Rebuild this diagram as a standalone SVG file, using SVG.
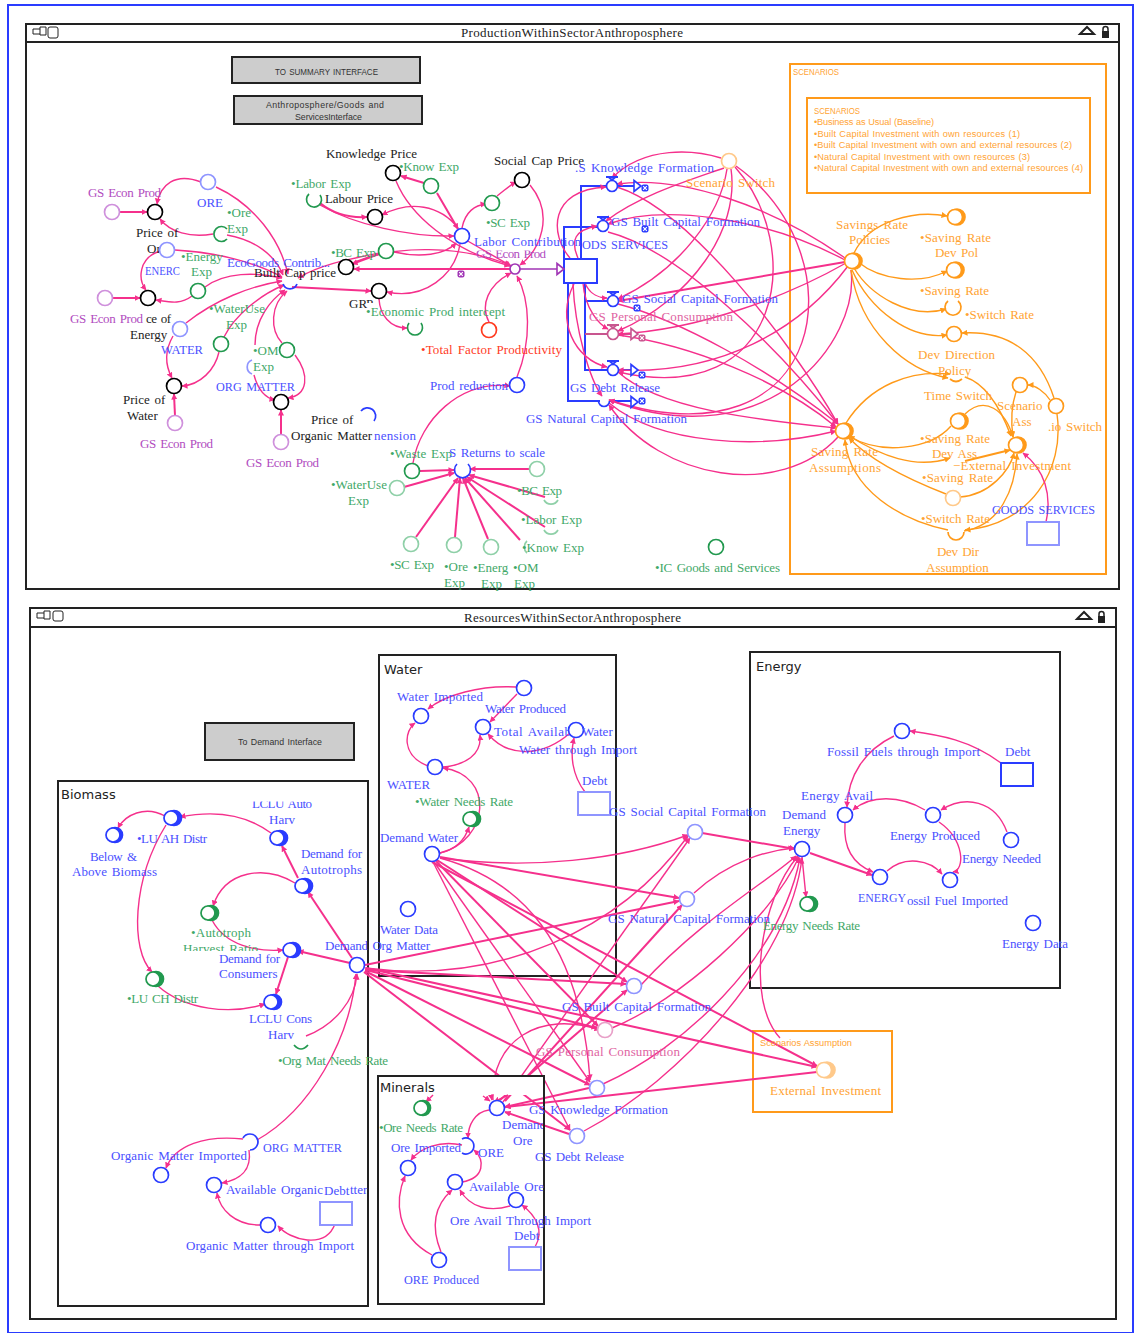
<svg xmlns="http://www.w3.org/2000/svg" width="1135" height="1333" viewBox="0 0 1135 1333">
<style>
text{font-family:"Liberation Serif","Times New Roman",serif;font-size:13px;word-spacing:1.500px}
.s{font-family:"Liberation Sans",Arial,sans-serif;font-size:9.200px;word-spacing:.5px}
.h{font-family:"DejaVu Sans","Open Sans",sans-serif;font-size:13px;fill:#222}
.bt{font-family:"Liberation Sans",Arial,sans-serif;font-size:8.800px;fill:#333;word-spacing:1px}
.ttl{fill:#222}
.tb{fill:#4a50ff}.tg{fill:#3fa868}.tk{fill:#222}.to{fill:#ffa333}.tp{fill:#b14cc0}.tr{fill:#ff3b1f}.tn{fill:#e064a2}
circle,.a{fill:#fff;stroke-width:1.700}
.a{fill:none}
.b{stroke:#2a3cff}.lb{stroke:#8f95ff}.g{stroke:#22994f}.lg{stroke:#8fd0a8}.k{stroke:#000}.o{stroke:#ff9a1a}.lo{stroke:#ffc98a}.pu{stroke:#cf90dc}.r{stroke:#ff3b1f}.m{stroke:#a035b5}.lp{stroke:#e8a0c8}.vp{stroke:#c8558f}
.cbf{fill:#2a3cff;stroke:#2a3cff}.cgf{fill:#22994f;stroke:#22994f}.cof{fill:#ff9a1a;stroke:#ff9a1a}.clo{fill:#ffc98a;stroke:#ffc98a}
.win{fill:#fff;stroke:#222;stroke-width:2}
.box{fill:none;stroke:#222;stroke-width:2}
.obox{fill:none;stroke:#ff9a1a;stroke-width:2}
.stk{fill:#fff;stroke:#2a3cff;stroke-width:2}
.lstk{fill:#fff;stroke:#8f95ff;stroke-width:2}
.btn{fill:#cdcdcd;stroke:#222;stroke-width:2}
#conn path,#conn2 path{fill:none;stroke:#f5308c;stroke-width:1.400;marker-end:url(#ap)}
#conn .t{stroke-width:2}
#conn .og{stroke:#ff9a1a;marker-end:url(#ao)}
.pipe{fill:none;stroke:#2a3cff;stroke-width:2}
.pp{fill:none;stroke:#c8558f;stroke-width:2}
.pm{fill:none;stroke:#a035b5;stroke-width:1.500}
</style>
<defs>
<marker id="ap" markerUnits="userSpaceOnUse" markerWidth="7" markerHeight="7" refX="5.500" refY="3" orient="auto"><path d="M0,0L6,3L0,6z" fill="#f5308c"/></marker>
<marker id="ao" markerUnits="userSpaceOnUse" markerWidth="7" markerHeight="7" refX="5.500" refY="3" orient="auto"><path d="M0,0L6,3L0,6z" fill="#ff9a1a"/></marker>
<g id="cl"><rect x="-3.500" y="-3.500" width="7" height="7" rx="2" fill="currentColor"/><path d="M-1.800,-1.800L1.800,1.800M1.800,-1.800L-1.800,1.800" stroke="#fff" stroke-width="1.200"/></g>
<g id="ah"><path d="M-6,-5.500L1,0L-6,5.500z" fill="#fff" stroke="currentColor" stroke-width="1.600"/></g>
<g id="vt"><path d="M-6,-9H6M-3.500,-9L0,-6L3.500,-9" fill="none" stroke="currentColor" stroke-width="1.800"/></g>
<clipPath id="c1"><rect x="470" y="250.500" width="90" height="12"/></clipPath>
<clipPath id="c2"><rect x="240" y="801.500" width="90" height="12"/></clipPath>
<clipPath id="c3"><rect x="170" y="940" width="100" height="11"/></clipPath>
<clipPath id="c4"><rect x="915" y="473" width="90" height="14"/></clipPath>
<clipPath id="c5"><rect x="360" y="295" width="30" height="8"/></clipPath>
<clipPath id="c6"><rect x="495" y="1115" width="48" height="20"/></clipPath>
</defs>
<rect x="8" y="5" width="1125" height="1328" fill="#fff" stroke="#2a3cff" stroke-width="2"/>

<g id="win1">
<rect class="win" x="26" y="24" width="1093" height="565"/>
<path d="M26,42H1119" stroke="#222" stroke-width="2"/>
<text class="ttl" x="461" y="37" textLength="222">ProductionWithinSectorAnthroposphere</text>
<path d="M33,29h7v-2h6v8h-6v-1h-7zM40,29v5" fill="#fff" stroke="#222"/>
<rect x="48" y="27" width="10" height="11" rx="2" fill="#fff" stroke="#222"/>
<path d="M1080,34L1087,27L1094,34z" fill="#fff" stroke="#222" stroke-width="2"/>
<rect x="1102" y="31" width="7" height="7" fill="#222"/><path d="M1103,31v-2a2.500,2.500 0 0 1 5,0v2" fill="none" stroke="#222" stroke-width="1.500"/>
</g>
<g id="win2">
<rect class="win" x="30" y="608" width="1086" height="711"/>
<path d="M30,627H1116" stroke="#222" stroke-width="2"/>
<text class="ttl" x="464" y="622" textLength="217">ResourcesWithinSectorAnthroposphere</text>
<path d="M37,613h7v-2h6v8h-6v-1h-7zM44,613v5" fill="#fff" stroke="#222"/>
<rect x="53" y="611" width="10" height="10" rx="2" fill="#fff" stroke="#222"/>
<path d="M1077,619L1084,612L1091,619z" fill="#fff" stroke="#222" stroke-width="2"/>
<rect x="1098" y="616" width="7" height="7" fill="#222"/><path d="M1099,616v-2a2.500,2.500 0 0 1 5,0v2" fill="none" stroke="#222" stroke-width="1.500"/>
</g>

<g id="btn1"><rect class="btn" x="232" y="57" width="188" height="26"/><text class="bt" x="275" y="75" textLength="103" lengthAdjust="spacingAndGlyphs">TO SUMMARY INTERFACE</text></g>
<g id="btn2"><rect class="btn" x="234" y="96" width="188" height="28"/><text class="bt" x="266" y="108" textLength="118">Anthroposphere/Goods and</text><text class="bt" x="295" y="120" textLength="67">ServicesInterface</text></g>
<g id="btn3"><rect class="btn" x="205" y="723" width="149" height="37"/><text class="bt" x="238" y="745" textLength="84">To Demand Interface</text></g>

<g id="boxes">
<rect class="obox" x="790" y="64" width="316" height="510"/>
<rect class="obox" x="807" y="98" width="283" height="95"/>
<rect class="box" x="379" y="655" width="237" height="321"/>
<rect class="box" x="750" y="652" width="310" height="336"/>
<rect class="box" x="58" y="781" width="310" height="525"/>
<rect class="obox" x="753" y="1031" width="139" height="81"/>
</g>

<g id="pipes">
<path class="pipe" d="M581,259V186H607M564,259V227H598M585,283V301H608M585,301V370H608M568,283V401H600"/>
<path class="pp" d="M585,334H608"/>
<path class="pipe" d="M618,186H638M618,370H636M610,401H636"/>
<path class="pp" d="M618,334H636"/>
<path class="pm" d="M520,269H561"/>
</g>

<g id="conn">
<path class="t" d="M116,212L147,212"/>
<path d="M201,182C175,172 160,185 157,204"/>
<path d="M213,234C190,238 170,232 160,219"/>
<path d="M216,187C255,205 280,240 288,274"/>
<path d="M227,235C255,240 275,255 283,275"/>
<path d="M160,251C138,258 138,280 146,290"/>
<path class="t" d="M109,298L140,298"/>
<path d="M192,296C180,305 170,302 156,300"/>
<path d="M175,250C215,252 255,262 282,277"/>
<path d="M205,287C225,272 255,272 282,278"/>
<path d="M186,323C215,300 250,286 282,281"/>
<path d="M224,337C235,315 260,295 284,285"/>
<path d="M255,345C255,320 270,300 285,290"/>
<path d="M282,343C270,330 270,305 287,291"/>
<path d="M295,355C310,375 308,395 288,398"/>
<path d="M254,375C258,390 265,398 275,400"/>
<path d="M173,336C165,350 165,365 172,378"/>
<path d="M219,352C215,370 200,385 182,386"/>
<path class="t" d="M175,416L174,394"/>
<path class="t" d="M281,435L281,410"/>
<path class="t" d="M292,287L371,291"/>
<path d="M379,299C380,315 390,328 407,328"/>
<path class="t" d="M320,203C335,215 350,218 367,217"/>
<path d="M320,205C355,225 410,237 454,236"/>
<path d="M458,228C440,205 410,200 382,215"/>
<path class="t" d="M424,183L401,176"/>
<path class="t" d="M437,193L458,229"/>
<path d="M462,228C465,212 475,205 486,204"/>
<path d="M497,196C505,190 510,185 516,182"/>
<path d="M396,181C410,215 450,250 510,266"/>
<path d="M530,185C555,215 540,250 520,265"/>
<path class="t" d="M379,254L352,264"/>
<path d="M394,252C420,258 445,255 456,243"/>
<path class="t" d="M510,269L354,269"/>
<path d="M355,262C395,245 460,245 510,265"/>
<path d="M379,253C345,260 320,265 298,278"/>
<path d="M460,244C455,275 425,300 387,292"/>
<path d="M466,240L511,266"/>
<path d="M489,322C480,305 488,285 511,273"/>
<path d="M517,377C532,340 530,300 517,276"/>
<path d="M413,463C420,420 460,380 510,386"/>
<path class="t" d="M420,471L454,470"/>
<path class="t" d="M404,487L454,473"/>
<path class="t" d="M529,469L470,469"/>
<path class="t" d="M545,497L469,475"/>
<path class="t" d="M545,527L467,477"/>
<path class="t" d="M520,540L465,478"/>
<path class="t" d="M488,539L463,478"/>
<path class="t" d="M455,537L460,478"/>
<path class="t" d="M416,537L458,478"/>

<path d="M845,258C770,205 680,175 617,184"/>
<path d="M845,260C760,215 660,205 608,224"/>
<path class="t" d="M845,262L618,301"/>
<path d="M846,263C790,295 700,330 618,334"/>
<path d="M848,266C800,330 720,375 618,370"/>
<path d="M851,270C860,340 770,460 609,400"/>
<path d="M617,187C690,210 790,340 838,424"/>
<path d="M608,232C680,250 780,350 838,424"/>
<path d="M618,304C680,320 770,370 838,424"/>
<path d="M618,335C690,345 780,380 836,427"/>
<path d="M618,372C660,410 760,420 836,428"/>
<path d="M609,403C660,445 760,450 836,431"/>
<path d="M838,437C780,500 660,480 609,405"/>
<path d="M721,158C695,150 645,145 612,178"/>
<path d="M724,168C690,180 640,195 606,221"/>
<path d="M727,169C720,215 680,270 618,299"/>
<path d="M731,169C740,230 690,300 618,331"/>
<path d="M735,167C805,245 785,410 618,372"/>
<path d="M736,166C860,255 830,470 609,400"/>
<path d="M570,258C550,235 548,190 606,187"/>
<path d="M578,258C570,240 575,230 597,226"/>
<path d="M585,283C590,295 600,298 607,298"/>
<path d="M583,283C585,310 600,325 608,329"/>
<path d="M574,284C555,320 575,360 607,367"/>
<path d="M573,284C575,330 590,380 602,396"/>

<path class="og" d="M854,253C870,220 915,210 947,216"/>
<path class="og" d="M858,262C880,280 920,285 947,271"/>
<path class="og" d="M854,268C870,295 910,320 946,309"/>
<path class="og" d="M852,270C870,310 910,340 947,335"/>
<path class="og" d="M851,270C860,330 905,370 948,378"/>
<path class="og" d="M846,423C870,385 910,370 950,374"/>
<path class="og" d="M965,377C990,385 1005,420 1011,436"/>
<path class="og" d="M951,426C930,450 880,455 849,436"/>
<path class="og" d="M965,414C985,395 1005,410 1013,437"/>
<path class="og" d="M849,436C880,455 915,470 950,458"/>
<path class="og t" d="M965,461L1010,450"/>
<path class="og" d="M946,494C910,480 870,460 849,438"/>
<path class="og" d="M960,497C990,495 1010,470 1014,453"/>
<path class="og" d="M948,530C900,520 850,490 845,440"/>
<path class="og" d="M964,531C1000,525 1015,490 1017,454"/>
<path class="og" d="M1016,392C1010,410 1012,430 1013,437"/>
<path class="og" d="M1050,400C1045,392 1035,385 1028,385"/>
<path class="og" d="M1054,398C1040,355 1010,330 962,333"/>
<path class="og" d="M1057,414C1065,470 1030,525 965,530"/>
<path d="M1046,522C1052,495 1045,470 1023,453"/>

<path d="M516,687C480,685 445,695 428,709"/>
<path d="M517,694L490,722"/>
<path d="M570,733C545,755 510,760 488,734"/>
<path d="M585,792C572,775 570,755 574,738"/>
<path d="M428,766C400,755 405,730 415,723"/>
<path d="M443,767C465,765 482,755 480,735"/>
<path d="M440,853C490,840 495,775 443,768"/>
<path d="M440,853C455,850 465,840 469,827"/>

<path d="M1001,763C970,740 940,735 910,731"/>
<path d="M894,736C865,750 848,775 847,807"/>
<path d="M925,810C900,795 870,795 853,810"/>
<path d="M1007,832C995,800 965,795 941,810"/>
<path d="M939,822C965,840 965,870 953,872"/>
<path d="M887,871C905,855 930,860 942,874"/>
<path d="M845,823C843,850 855,865 873,872"/>
<path class="t" d="M810,853L872,875"/>
<path d="M802,857L806,897"/>

<path d="M440,858C530,870 620,860 688,835"/>
<path class="t" d="M440,857L679,898"/>
<path class="t" d="M437,860L627,982"/>
<path class="t" d="M436,861L598,1026"/>
<path d="M434,862L590,1082"/>
<path d="M433,862L570,1130"/>
<path d="M440,858C520,880 580,940 590,1080"/>
<path class="t" d="M432,862L817,1066"/>
<path d="M365,968C500,985 620,930 688,836"/>
<path class="t" d="M365,965L679,901"/>
<path class="t" d="M365,970L626,984"/>
<path class="t" d="M366,970L597,1028"/>
<path class="t" d="M365,971L590,1085"/>
<path class="t" d="M364,972L570,1130"/>
<path class="t" d="M366,968L817,1067"/>
<path d="M503,1102L690,838"/>
<path class="t" d="M505,1101L682,905"/>
<path class="t" d="M500,1100L627,990"/>
<path d="M493,1100C490,1040 540,1010 600,1030"/>
<path class="t" d="M589,1088L505,1107"/>
<path class="t" d="M569,1134L505,1112"/>
<path class="t" d="M817,1072L505,1107"/>
<path class="t" d="M702,833L795,849"/>
<path d="M694,893C730,860 770,850 794,848"/>
<path d="M641,985C700,920 770,880 796,856"/>
<path d="M612,1028C680,1000 770,920 799,857"/>
<path d="M603,1084C680,1050 780,960 800,858"/>
<path d="M584,1131C680,1080 790,960 802,858"/>
<path d="M780,1038C745,1000 760,900 798,856"/>

<path d="M165,816C145,805 125,815 118,828"/>
<path d="M166,825C132,880 130,950 152,972"/>
<path d="M271,833C240,810 205,812 180,817"/>
<path class="t" d="M298,878L282,846"/>
<path class="t" d="M352,958L308,892"/>
<path d="M295,883C265,865 225,870 213,906"/>
<path d="M212,920C225,945 255,952 283,950"/>
<path class="t" d="M350,963L298,951"/>
<path class="t" d="M288,957L276,994"/>
<path d="M158,986C185,1010 230,1015 265,1004"/>
<path d="M306,1036C335,1025 355,1000 357,974"/>
<path d="M257,1140C310,1110 350,1040 356,974"/>
<path d="M243,1139C205,1135 175,1145 166,1168"/>
<path d="M249,1150C252,1170 240,1180 222,1183"/>
<path d="M260,1225C235,1225 220,1210 217,1193"/>
<path d="M335,1224C325,1250 290,1240 278,1226"/>
</g>

<rect id="mask" x="379" y="1077" width="164" height="18" fill="#fff"/>
<g id="minerals-box">
<rect class="box" x="378" y="1076" width="166" height="228"/>
</g>
<g id="conn2">
<path d="M489,1110C475,1112 468,1125 468,1138"/>
<path d="M462,1145C440,1140 420,1148 411,1160"/>
<path d="M462,1182C485,1178 485,1160 474,1150"/>
<path d="M510,1206C490,1212 470,1208 460,1190"/>
<path d="M535,1247C545,1230 535,1215 522,1205"/>
<path d="M432,1255C395,1235 395,1200 405,1176"/>
<path d="M441,1252C430,1225 435,1205 452,1190"/>
<path d="M433,1095C430,1098 428,1100 426,1102"/>
<path d="M483,1096L490,1101"/>
<path d="M491,1095L492,1100"/>
<path d="M508,1095L494,1102"/>
</g>

<!-- top window nodes -->
<g id="n-gs1"><circle class="pu" cx="112" cy="212" r="7.500"/><text class="tp" x="88" y="197" textLength="73">GS Econ Prod</text></g>
<g id="n-priceore"><circle class="k" cx="155" cy="212" r="7.500"/><text class="tk" x="136" y="237">Price of</text><text class="tk" x="147" y="253">Or</text></g>
<g id="n-ore"><circle class="lb" cx="208" cy="182" r="7.500"/><text class="tb" x="197" y="207">ORE</text></g>
<g id="n-oreexp"><path class="a g" d="M227,229A7.500,7.500 0 1 0 227,239"/><text class="tg" x="227" y="217">•Ore</text><text class="tg" x="227" y="233">Exp</text></g>
<g id="n-energy"><circle class="lb" cx="167" cy="250" r="7.500"/><text class="tb" x="145" y="275" textLength="35" lengthAdjust="spacingAndGlyphs">ENERC</text></g>
<g id="n-energyexp"><circle class="g" cx="198" cy="291" r="7.500"/><text class="tg" x="181" y="261">•Energy</text><text class="tg" x="191" y="276">Exp</text></g>
<g id="n-gs2"><circle class="pu" cx="105" cy="298" r="7.500"/><text class="tp" x="70" y="323" textLength="73">GS Econ Prod</text></g>
<g id="n-priceen"><circle class="k" cx="148" cy="298" r="7.500"/><text class="tk" x="146" y="323" textLength="25">ce of</text><text class="tk" x="130" y="339">Energy</text></g>
<g id="n-water"><circle class="lb" cx="180" cy="329" r="7.500"/><text class="tb" x="161" y="354" textLength="42" lengthAdjust="spacingAndGlyphs">WATER</text></g>
<g id="n-wateruse"><circle class="g" cx="221" cy="344" r="7.500"/><text class="tg" x="209" y="313" textLength="56">•WaterUse</text><text class="tg" x="226" y="329">Exp</text></g>
<g id="n-builtcap"><path class="a b" d="M283,284A7.500,7.500 0 0 0 297,284"/><text class="tb" x="227" y="267" textLength="103">EcoGoods Contrib...</text><text class="tk" x="254" y="277" textLength="82">Built Cap price</text></g>
<g id="n-omexp"><circle class="g" cx="287" cy="350" r="7.500"/><text class="tg" x="253" y="355">•OM</text><text class="tg" x="253" y="371">Exp</text></g>
<g id="n-orgmat"><path class="a lb" d="M252,360A7.500,7.500 0 0 0 252,374"/><text class="tb" x="216" y="391" textLength="79" lengthAdjust="spacingAndGlyphs">ORG MATTER</text></g>
<g id="n-pricewater"><circle class="k" cx="174" cy="386" r="7.500"/><text class="tk" x="123" y="404">Price of</text><text class="tk" x="127" y="420">Water</text></g>
<g id="n-gs3"><circle class="pu" cx="175" cy="423" r="7.500"/><text class="tp" x="140" y="448" textLength="73">GS Econ Prod</text></g>
<g id="n-priceorg"><circle class="k" cx="281" cy="402" r="7.500"/><text class="tk" x="311" y="424">Price of</text><text class="tk" x="291" y="440" textLength="81">Organic Matter</text></g>
<g id="n-gs4"><circle class="pu" cx="281" cy="442" r="7.500"/><text class="tp" x="246" y="467" textLength="73">GS Econ Prod</text></g>
<g id="n-dim"><path class="a b" d="M361,411A8,8 0 0 1 374,421"/><text class="tb" x="374" y="440" textLength="42">nension</text></g>
<g id="n-grp"><circle class="k" cx="379" cy="291" r="7.500"/><text class="tk" x="349" y="308">GR</text><text class="tk" x="366" y="308" clip-path="url(#c5)">P</text></g>
<g id="n-bcprice"><circle class="k" cx="346" cy="267" r="7.500"/></g>
<g id="n-labexp"><path class="a g" d="M320,195A7.500,7.500 0 1 1 309,194"/><text class="tg" x="291" y="188" textLength="60">•Labor Exp</text></g>
<g id="n-labprice"><circle class="k" cx="375" cy="217" r="7.500"/><text class="tk" x="325" y="203" textLength="68">Labour Price</text></g>
<g id="n-knowprice"><circle class="k" cx="393" cy="173" r="7.500"/><text class="tk" x="326" y="158" textLength="91">Knowledge Price</text></g>
<g id="n-knowexp"><circle class="g" cx="431" cy="186" r="7.500"/><text class="tg" x="399" y="171" textLength="60">•Know Exp</text></g>
<g id="n-scexp"><circle class="g" cx="492" cy="203" r="7.500"/><text class="tg" x="486" y="227" textLength="44">•SC Exp</text></g>
<g id="n-socprice"><circle class="k" cx="522" cy="180" r="7.500"/><text class="tk" x="494" y="165" textLength="90">Social Cap Price</text></g>
<g id="n-bcexp"><circle class="g" cx="386" cy="251" r="7.500"/><text class="tg" x="331" y="257" textLength="45">•BC Exp</text></g>
<g id="n-labcon"><circle class="b" cx="462" cy="236" r="7.500"/><text class="tp" x="476" y="258" clip-path="url(#c1)" textLength="70">GS Econ Prod</text><text class="tb" x="474" y="246" textLength="107">Labor Contribution</text></g>
<g id="n-gsecon"><circle class="m" cx="515" cy="269" r="5"/></g>
<g id="n-cross" color="#a035b5"><use href="#cl" x="461" y="274"/></g>
<g id="n-econ"><path class="a g" d="M409,323A7.500,7.500 0 1 0 421,323"/><text class="tg" x="366" y="316" textLength="139">•Economic Prod intercept</text></g>
<g id="n-tfp"><circle class="r" cx="489" cy="330" r="7.500"/><text class="tr" x="421" y="354" textLength="141">•Total Factor Productivity</text></g>
<g id="n-prodred"><circle class="b" cx="517" cy="385" r="7.500"/><text class="tb" x="430" y="390" textLength="78">Prod reduction</text></g>
<g id="n-waste"><circle class="g" cx="412" cy="471" r="7.500"/><text class="tg" x="390" y="458" textLength="62">•Waste Exp</text></g>
<g id="n-returns"><path class="a b" d="M457,464A8,8 0 1 0 468,464"/><text class="tb" x="449" y="457" textLength="96">S Returns to scale</text></g>
<g id="n-wu2"><circle class="lg" cx="397" cy="488" r="7.500"/><text class="tg" x="331" y="489" textLength="56">•WaterUse</text><text class="tg" x="348" y="505">Exp</text></g>
<g id="n-right"><circle class="lg" cx="537" cy="469" r="7.500"/></g>
<g id="n-bc2"><path class="a lg" d="M544,500A8,8 0 0 0 558,500"/><text class="tg" x="517" y="495" textLength="45">•BC Exp</text></g>
<g id="n-lab2"><path class="a lg" d="M544,530A8,8 0 0 0 558,530"/><text class="tg" x="521" y="524" textLength="61">•Labor Exp</text></g>
<g id="n-know2"><path class="a lg" d="M527,541A8,8 0 0 0 527,553"/><text class="tg" x="522" y="552" textLength="62">•Know Exp</text></g>
<g id="n-sc2"><circle class="lg" cx="411" cy="544" r="7.500"/><text class="tg" x="390" y="569" textLength="44">•SC Exp</text></g>
<g id="n-ore2"><circle class="lg" cx="454" cy="545" r="7.500"/><text class="tg" x="444" y="571">•Ore</text><text class="tg" x="444" y="587">Exp</text></g>
<g id="n-en2"><circle class="lg" cx="491" cy="547" r="7.500"/><text class="tg" x="473" y="572">•Energ</text><text class="tg" x="481" y="588">Exp</text></g>
<g id="n-om2"><text class="tg" x="513" y="572">•OM</text><text class="tg" x="514" y="588">Exp</text></g>
<g id="n-ic"><circle class="g" cx="716" cy="547" r="7.500"/><text class="tg" x="655" y="572" textLength="125">•IC Goods and Services</text></g>

<g id="stock-goods"><rect class="stk" x="564" y="259" width="33" height="24"/><text class="tb" x="582" y="249" textLength="86" lengthAdjust="spacingAndGlyphs">ODS SERVICES</text></g>
<g id="f-know" color="#2a3cff"><circle class="b" cx="612" cy="186" r="5.500"/><use href="#vt" x="612" y="186"/><use href="#ah" x="640" y="186"/><use href="#cl" x="645" y="188"/><text class="tb" x="575" y="172" textLength="139">.S Knowledge Formation</text></g>
<g id="f-built" color="#2a3cff"><circle class="b" cx="603" cy="226" r="5.500"/><use href="#vt" x="603" y="226"/><use href="#cl" x="645" y="229"/><text class="tb" x="611" y="226" textLength="149">GS Built Capital Formation</text></g>
<g id="f-social" color="#2a3cff"><use href="#cl" x="637" y="308"/><circle class="b" cx="613" cy="301" r="5.500"/><use href="#vt" x="613" y="301"/><text class="tb" x="622" y="303" textLength="156">GS Social Capital Formation</text></g>
<g id="f-personal" color="#c8558f"><circle class="vp" cx="613" cy="334" r="5.500"/><use href="#vt" x="613" y="334"/><use href="#ah" x="637" y="334"/><use href="#cl" x="642" y="338"/><text class="tn" x="589" y="321" textLength="144">GS Personal Consumption</text></g>
<g id="f-debt" color="#2a3cff"><circle class="b" cx="613" cy="370" r="5.500"/><use href="#vt" x="613" y="370"/><use href="#ah" x="637" y="370"/><use href="#cl" x="642" y="375"/><text class="tb" x="570" y="392" textLength="90">GS Debt Release</text></g>
<g id="f-natural" color="#2a3cff"><path class="a b" d="M598.500,401A5.500,5.500 0 0 0 609.500,401"/><use href="#ah" x="637" y="402"/><use href="#cl" x="642" y="401"/><text class="tb" x="526" y="423" textLength="161">GS Natural Capital Formation</text></g>
<g id="n-goodsarrow" color="#a035b5"><use href="#ah" x="563" y="269"/></g>

<g id="n-sw"><circle class="lo" cx="729" cy="161" r="7.500"/><text class="to" x="686" y="187" textLength="89">Scenario Switch</text></g>
<g id="scen-text">
<text class="s to" x="793" y="75" textLength="46" lengthAdjust="spacingAndGlyphs">SCENARIOS</text>
<text class="s to" x="814" y="114" textLength="46" lengthAdjust="spacingAndGlyphs">SCENARIOS</text>
<text class="s to" x="814" y="125" textLength="120">•Business as Usual (Baseline)</text>
<text class="s to" x="814" y="137" textLength="206">•Built Capital Investment with own resources (1)</text>
<text class="s to" x="814" y="148" textLength="258">•Built Capital Investment with own and external resources (2)</text>
<text class="s to" x="814" y="160" textLength="216">•Natural Capital Investment with own resources (3)</text>
<text class="s to" x="814" y="171" textLength="269">•Natural Capital Investment with own and external resources (4)</text>
</g>
<g id="n-srp"><circle class="cof" cx="854" cy="261" r="8"/><circle class="o" cx="852" cy="261" r="7.500"/><text class="to" x="836" y="229" textLength="72">Savings Rate</text><text class="to" x="849" y="244">Policies</text></g>
<g id="n-srd"><circle class="cof" cx="957" cy="217" r="8"/><circle class="o" cx="955" cy="217" r="7.500"/><text class="to" x="920" y="242" textLength="71">•Saving Rate</text><text class="to" x="935" y="257" textLength="43">Dev Pol</text></g>
<g id="n-sr2"><circle class="cof" cx="956" cy="270" r="8"/><circle class="o" cx="954" cy="270" r="7.500"/><text class="to" x="920" y="295" textLength="69">•Saving Rate</text></g>
<g id="n-swr"><path class="a o" d="M948,301A8,8 0 1 0 958,301"/><text class="to" x="965" y="319" textLength="69">•Switch Rate</text></g>
<g id="n-dev"><circle class="o" cx="954" cy="334" r="7.500"/><text class="to" x="918" y="359" textLength="77">Dev Direction</text><text class="to" x="938" y="375">Policy</text></g>
<g id="n-time"><path class="a o" d="M950,379Q956,384 962,379"/><text class="to" x="924" y="400" textLength="68">Time Switch</text></g>
<g id="n-sda"><circle class="cof" cx="960" cy="421" r="8"/><circle class="o" cx="958" cy="421" r="7.500"/><text class="to" x="920" y="443" textLength="70">•Saving Rate</text><text class="to" x="932" y="458" textLength="45">Dev Ass</text></g>
<g id="n-sr3"><circle class="lo" cx="953" cy="498" r="7.500"/><text class="to" x="922" y="482" clip-path="url(#c4)" textLength="71">•Saving Rate</text></g>
<g id="n-dda"><path class="a o" d="M948,532A8,8 0 0 0 964,532"/><text class="to" x="921" y="523" textLength="69">•Switch Rate</text><text class="to" x="937" y="556" textLength="42">Dev Dir</text><text class="to" x="926" y="572">Assumption</text></g>
<g id="n-sra"><circle class="cof" cx="845" cy="431" r="8"/><circle class="o" cx="843" cy="431" r="7.500"/><text class="to" x="811" y="456" textLength="67">Saving Rate</text><text class="to" x="809" y="472" textLength="72">Assumptions</text></g>
<g id="n-scass"><circle class="o" cx="1020" cy="385" r="7.500"/><text class="to" x="997" y="410">Scenario</text><text class="to" x="1012" y="426">Ass</text></g>
<g id="n-scsw"><circle class="o" cx="1056" cy="406" r="7.500"/><text class="to" x="1048" y="431" textLength="54">.io Switch</text></g>
<g id="n-ext"><circle class="cof" cx="1018" cy="445" r="8"/><circle class="o" cx="1016" cy="445" r="7.500"/><text class="to" x="953" y="470" textLength="118">−External Investment</text></g>
<g id="n-gsv"><rect class="lstk" x="1027" y="522" width="32" height="23"/><text class="tb" x="992" y="514" textLength="103" lengthAdjust="spacingAndGlyphs">GOODS SERVICES</text></g>

<!-- water -->
<g id="w-title"><text class="h" x="384" y="674">Water</text></g>
<g id="w-prod"><circle class="b" cx="524" cy="688" r="7.500"/><text class="tb" x="485" y="713" textLength="81">Water Produced</text></g>
<g id="w-imp"><circle class="b" cx="421" cy="716" r="7.500"/><text class="tb" x="397" y="701" textLength="86">Water Imported</text></g>
<g id="w-tot"><circle class="b" cx="483" cy="727" r="7.500"/><text class="tb" x="494" y="736" textLength="77">Total Availab</text></g>
<g id="w-thr"><circle class="b" cx="576" cy="730" r="7.500"/><text class="tb" x="582" y="736">Water</text><text class="tb" x="519" y="754" textLength="118">Water through Import</text></g>
<g id="w-w"><circle class="b" cx="435" cy="767" r="7.500"/><text class="tb" x="387" y="789" textLength="43" lengthAdjust="spacingAndGlyphs">WATER</text></g>
<g id="w-debt"><rect class="lstk" x="578" y="792" width="32" height="23"/><text class="tb" x="582" y="785">Debt</text></g>
<g id="w-need"><circle class="cgf" cx="473" cy="819" r="7.500"/><circle class="g" cx="470" cy="819" r="7"/><text class="tg" x="415" y="806" textLength="98">•Water Needs Rate</text></g>
<g id="w-dem"><circle class="b" cx="432" cy="854" r="7.500"/><text class="tb" x="380" y="842" textLength="78">Demand Water</text></g>
<g id="w-data"><circle class="b" cx="408" cy="909" r="7.500"/><text class="tb" x="380" y="934" textLength="58">Water Data</text></g>

<!-- centre -->
<g id="c-soc"><circle class="lb" cx="695" cy="832" r="7.500"/><text class="tb" x="609" y="816" textLength="157">GS Social Capital Formation</text></g>
<g id="c-nat"><circle class="lb" cx="687" cy="899" r="7.500"/><text class="tb" x="608" y="923" textLength="162">GS Natural Capital Formation</text></g>
<g id="c-bui"><circle class="lb" cx="634" cy="986" r="7.500"/><text class="tb" x="562" y="1011" textLength="149">GS Built Capital Formation</text></g>
<g id="c-per"><circle class="lp" cx="605" cy="1030" r="7.500"/><text class="tn" x="536" y="1056" textLength="144">GS Personal Consumption</text></g>
<g id="c-kno"><circle class="lb" cx="597" cy="1088" r="7.500"/><text class="tb" x="529" y="1114" textLength="139">GS Knowledge Formation</text></g>
<g id="c-deb"><circle class="lb" cx="577" cy="1136" r="7.500"/><text class="tb" x="535" y="1161" textLength="89">GS Debt Release</text></g>

<!-- energy -->
<g id="e-title"><text class="h" x="756" y="671">Energy</text></g>
<g id="e-fos"><circle class="b" cx="902" cy="731" r="7.500"/><text class="tb" x="827" y="756" textLength="153">Fossil Fuels through Import</text></g>
<g id="e-debt"><rect class="stk" x="1001" y="763" width="32" height="23"/><text class="tb" x="1005" y="756">Debt</text></g>
<g id="e-av"><circle class="b" cx="845" cy="815" r="7.500"/><text class="tb" x="801" y="800" textLength="72">Energy Avail</text></g>
<g id="e-dem"><circle class="b" cx="802" cy="849" r="7.500"/><text class="tb" x="782" y="819">Demand</text><text class="tb" x="783" y="835">Energy</text></g>
<g id="e-pro"><circle class="b" cx="933" cy="815" r="7.500"/><text class="tb" x="890" y="840" textLength="90">Energy Produced</text></g>
<g id="e-nee"><circle class="b" cx="1011" cy="840" r="7.500"/><text class="tb" x="962" y="863" textLength="79">Energy Needed</text></g>
<g id="e-en"><circle class="b" cx="880" cy="877" r="7.500"/><text class="tb" x="858" y="902" textLength="48" lengthAdjust="spacingAndGlyphs">ENERGY</text></g>
<g id="e-ffi"><circle class="b" cx="950" cy="880" r="7.500"/><text class="tb" x="907" y="905" textLength="101">ossil Fuel Imported</text></g>
<g id="e-rate"><circle class="cgf" cx="810" cy="904" r="7.500"/><circle class="g" cx="807" cy="904" r="7"/><text class="tg" x="763" y="930" textLength="97">Energy Needs Rate</text></g>
<g id="e-data"><circle class="b" cx="1033" cy="923" r="7.500"/><text class="tb" x="1002" y="948" textLength="66">Energy Data</text></g>

<!-- scenario assumption -->
<g id="s-ext"><circle class="clo" cx="827" cy="1070" r="8"/><circle class="lo" cx="824" cy="1070" r="7.500"/><text class="s to" x="760" y="1046" textLength="92" lengthAdjust="spacingAndGlyphs">Scenarios Assumption</text><text class="to" x="770" y="1095" textLength="111">External Investment</text></g>

<!-- minerals -->
<g id="m-title"><text class="h" x="380" y="1092">Minerals</text></g>
<g id="m-need"><circle class="cgf" cx="423" cy="1108" r="7.500"/><circle class="g" cx="421" cy="1108" r="7"/><text class="tg" x="379" y="1132" textLength="84">•Ore Needs Rate</text></g>
<g id="m-dem"><circle class="b" cx="497" cy="1108" r="7.500"/><text class="tb" x="502" y="1129" clip-path="url(#c6)">Demand</text><text class="tb" x="513" y="1145">Ore</text></g>
<g id="m-ore"><path class="a b" d="M462,1139A8,8 0 1 1 462,1153"/><text class="tb" x="478" y="1157">ORE</text></g>
<g id="m-imp"><circle class="b" cx="408" cy="1168" r="7.500"/><text class="tb" x="391" y="1152" textLength="70">Ore Imported</text></g>
<g id="m-av"><circle class="b" cx="455" cy="1182" r="7.500"/><text class="tb" x="469" y="1191" textLength="75">Available Ore</text></g>
<g id="m-thr"><circle class="b" cx="516" cy="1200" r="7.500"/><text class="tb" x="450" y="1225" textLength="141">Ore Avail Through Import</text></g>
<g id="m-debt"><rect class="lstk" x="509" y="1247" width="32" height="23"/><text class="tb" x="514" y="1240">Debt</text></g>
<g id="m-prod"><circle class="b" cx="439" cy="1260" r="7.500"/><text class="tb" x="404" y="1284" textLength="75" lengthAdjust="spacingAndGlyphs">ORE Produced</text></g>

<!-- biomass -->
<g id="b-title"><text class="h" x="61" y="799">Biomass</text></g>
<g id="b-below"><circle class="cbf" cx="115" cy="835" r="7.500"/><circle class="b" cx="113" cy="835" r="7"/><text class="tb" x="90" y="861" textLength="47">Below &amp;</text><text class="tb" x="72" y="876" textLength="85">Above Biomass</text></g>
<g id="b-ah"><circle class="cbf" cx="174" cy="818" r="7.500"/><circle class="b" cx="171" cy="818" r="7"/><text class="tb" x="137" y="843" textLength="70">•LU AH Distr</text></g>
<g id="b-auto"><circle class="cbf" cx="280" cy="838" r="7.500"/><circle class="b" cx="277" cy="838" r="7"/><text class="tb" x="252" y="808" clip-path="url(#c2)" textLength="60">LCLU Auto</text><text class="tb" x="269" y="824">Harv</text></g>
<g id="b-dau"><circle class="cbf" cx="305" cy="886" r="7.500"/><circle class="b" cx="302" cy="886" r="7"/><text class="tb" x="301" y="858" textLength="61">Demand for</text><text class="tb" x="301" y="874" textLength="61">Autotrophs</text></g>
<g id="b-ahr"><circle class="cgf" cx="211" cy="913" r="7.500"/><circle class="g" cx="208" cy="913" r="7"/><text class="tg" x="191" y="937" textLength="60">•Autotroph</text><text class="tg" x="183" y="953" clip-path="url(#c3)" textLength="75">Harvest Ratio</text></g>
<g id="b-dco"><circle class="cbf" cx="293" cy="950" r="7.500"/><circle class="b" cx="290" cy="950" r="7"/><text class="tb" x="219" y="963" textLength="61">Demand for</text><text class="tb" x="219" y="978">Consumers</text></g>
<g id="b-dorg"><circle class="b" cx="357" cy="965" r="7.500"/><text class="tb" x="325" y="950" textLength="105">Demand Org Matter</text></g>
<g id="b-ch"><circle class="cgf" cx="156" cy="979" r="7.500"/><circle class="g" cx="153" cy="979" r="7"/><text class="tg" x="127" y="1003" textLength="71">•LU CH Distr</text></g>
<g id="b-cons"><circle class="cbf" cx="274" cy="1002" r="7.500"/><circle class="b" cx="271" cy="1002" r="7"/><text class="tb" x="249" y="1023" textLength="63">LCLU Cons</text><text class="tb" x="268" y="1039">Harv</text></g>
<g id="b-om"><path class="a g" d="M294,1045Q301,1053 308,1045" stroke-width="2"/><text class="tg" x="278" y="1065" textLength="110">•Org Mat Needs Rate</text></g>
<g id="b-orgm"><path class="a b" d="M243,1138A8,8 0 1 1 250,1150"/><text class="tb" x="263" y="1152" textLength="79" lengthAdjust="spacingAndGlyphs">ORG MATTER</text></g>
<g id="b-imp"><circle class="b" cx="161" cy="1175" r="7.500"/><text class="tb" x="111" y="1160" textLength="136">Organic Matter Imported</text></g>
<g id="b-av"><circle class="b" cx="214" cy="1185" r="7.500"/><text class="tb" x="226" y="1194" textLength="97">Available Organic</text><text class="tb" x="350" y="1194">tter</text></g>
<g id="b-debt"><rect class="lstk" x="320" y="1202" width="32" height="23"/><text class="tb" x="324" y="1195">Debt</text></g>
<g id="b-thr"><circle class="b" cx="268" cy="1225" r="7.500"/><text class="tb" x="186" y="1250" textLength="168">Organic Matter through Import</text></g>
</svg>
